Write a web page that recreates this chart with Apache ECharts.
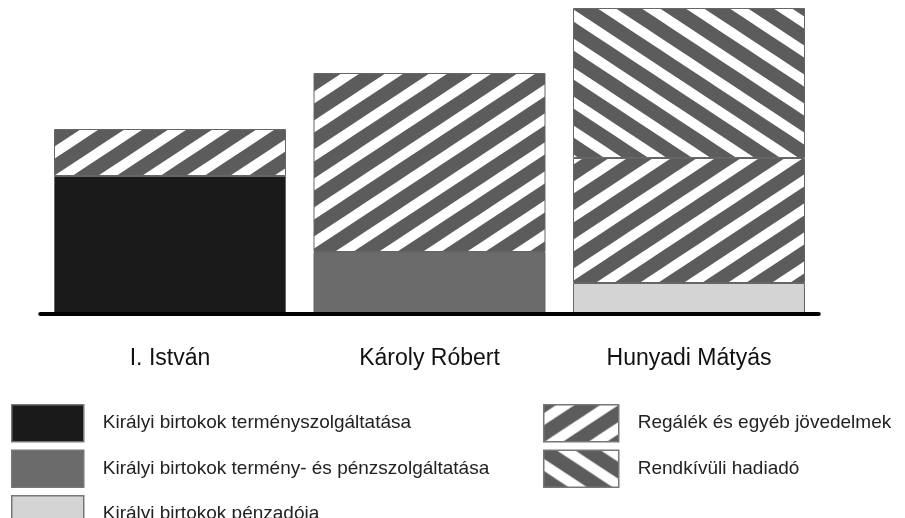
<!DOCTYPE html>
<html>
<head>
<meta charset="utf-8">
<script src="https://cdn.jsdelivr.net/npm/echarts@6/dist/echarts.min.js"></script>
<style>
html,body{margin:0;padding:0;background:#fff;}
#chart{width:905px;height:518px;}
</style>
</head>
<body>
<div id="chart"></div>
<script>
// ---- data ----
var categories = ['I. István', 'Károly Róbert', 'Hunyadi Mátyás'];
var seriesNames = [
  'Királyi birtokok terményszolgáltatása',
  'Királyi birtokok termény- és pénzszolgáltatása',
  'Királyi birtokok pénzadója',
  'Regálék és egyéb jövedelmek',
  'Rendkívüli hadiadó'
];
var terményszolgáltatás = [138, null, null];
var terményPénzszolgáltatás = [null, 62, null];
var pénzadó = [null, null, 31];
var regálék = [47, 179, 125];
var hadiadó = [null, null, 150];
var yMax = 306;

// ---- hatch patterns ----
function makeHatch(dir) {
  var W = 44, H = 29;
  var c = document.createElement('canvas');
  c.width = W; c.height = H;
  var g = c.getContext('2d');
  g.fillStyle = '#ffffff';
  g.fillRect(0, 0, W, H);
  g.strokeStyle = '#5c5c5c';
  g.lineWidth = 14;
  for (var k = -1; k <= 1; k++) {
    g.beginPath();
    if (dir === '/') {
      g.moveTo(-W + k * W, 2 * H);
      g.lineTo(2 * W + k * W, -H);
    } else {
      g.moveTo(-W + k * W, -H);
      g.lineTo(2 * W + k * W, 2 * H);
    }
    g.stroke();
  }
  return { image: c, repeat: 'repeat' };
}
var hatchUp = makeHatch('/');
var hatchDown = makeHatch('\\');

var colors = ['#1a1a1a', '#6b6b6b', '#d4d4d4', hatchUp, hatchDown];
var dataSets = [terményszolgáltatás, terményPénzszolgáltatás, pénzadó, regálék, hadiadó];

var chart = echarts.init(document.getElementById('chart'), null, { renderer: 'canvas' });
var font = '"Liberation Sans", Arial, sans-serif';

var series = seriesNames.map(function (name, i) {
  return {
    name: name,
    type: 'bar',
    stack: 'total',
    barCategoryGap: '10.6%',
    data: dataSets[i].map(function (v) { return v == null ? '-' : v; }),
    itemStyle: { color: colors[i], borderColor: '#666', borderWidth: 1 },
    emphasis: { disabled: true },
    z: 2
  };
});

var legendCommon = {
  orient: 'vertical',
  icon: 'rect',
  padding: 0,
  height: 200,
  itemHeight: 37,
  itemGap: 7,
  selectedMode: false,
  itemStyle: { borderColor: '#777', borderWidth: 1.5 },
  textStyle: { fontFamily: font, fontSize: 19, color: '#222', padding: [0, 0, 0, 14] }
};

chart.setOption({
  animation: false,
  backgroundColor: '#ffffff',
  aria: { enabled: false },
  grid: { left: 40.25, right: 86.25, top: 8, bottom: 204, containLabel: false },
  legend: [
    Object.assign({}, legendCommon, { left: 11, top: 404, itemWidth: 72, data: seriesNames.slice(0, 3) }),
    Object.assign({}, legendCommon, { left: 543, top: 404, itemWidth: 75, data: seriesNames.slice(3) })
  ],
  xAxis: {
    type: 'category',
    data: categories,
    axisLine: { show: true, lineStyle: { color: '#000', width: 4 } },
    axisTick: { show: false },
    axisLabel: { fontFamily: font, fontSize: 23, color: '#111', margin: 33 },
    z: 10
  },
  yAxis: { type: 'value', min: 0, max: yMax, show: false, splitLine: { show: false } },
  series: series
});
</script>
</body>
</html>
